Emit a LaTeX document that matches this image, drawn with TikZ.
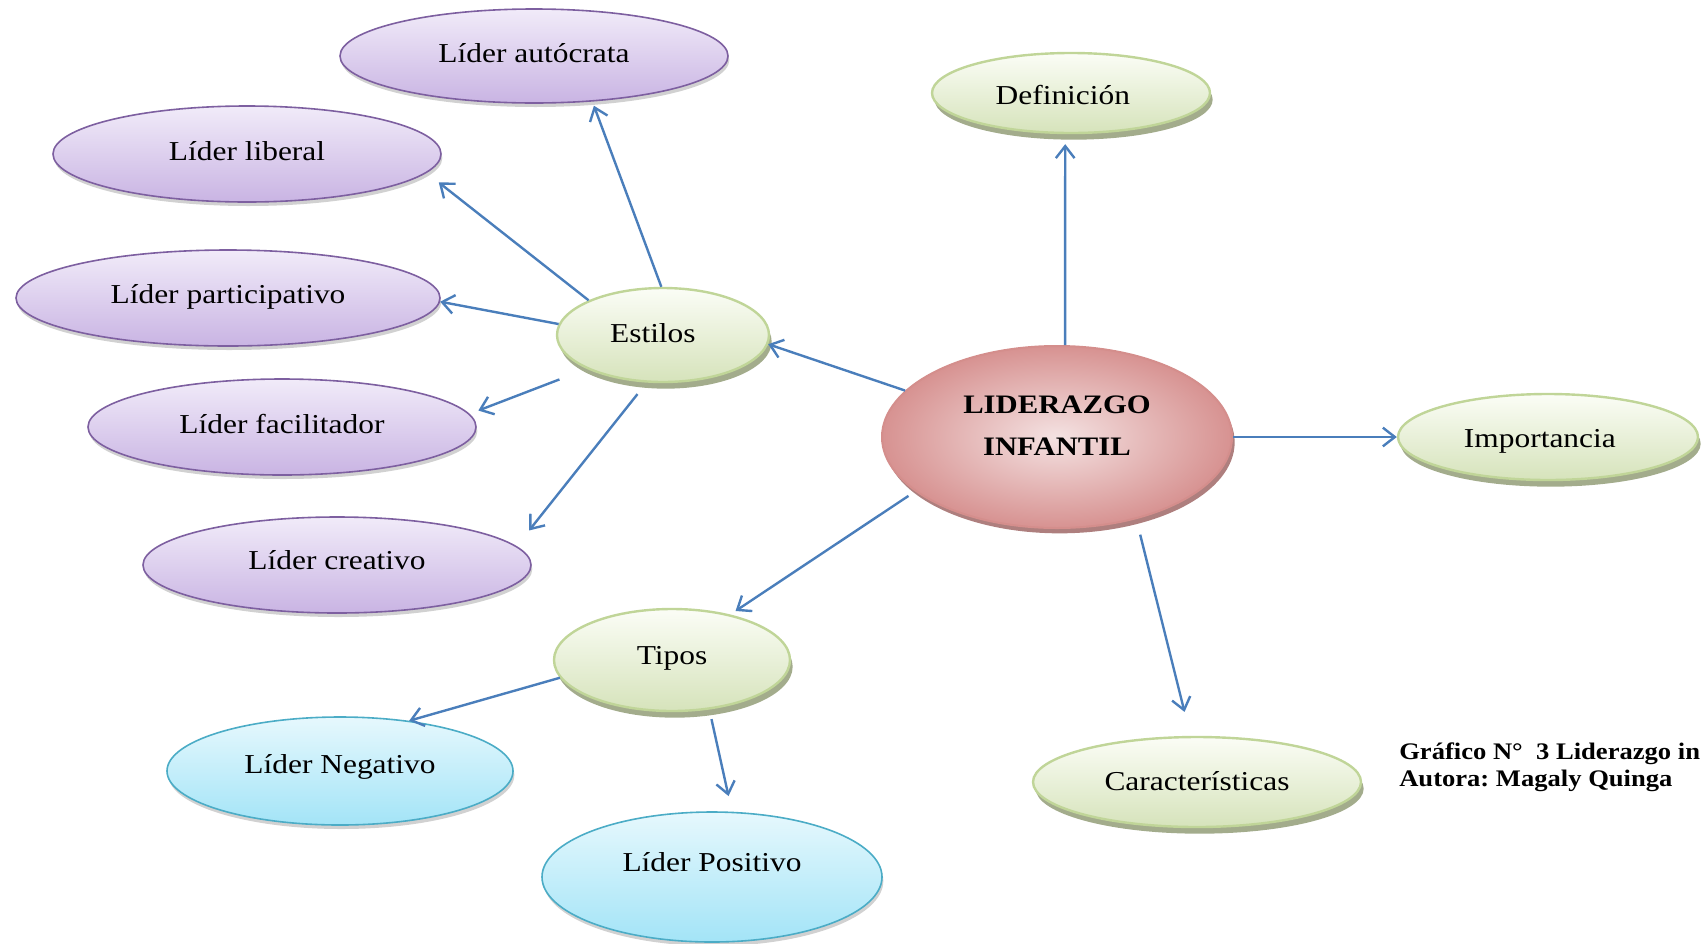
\documentclass[tikz,border=0pt]{standalone}
\usepackage{fontspec}
\setmainfont{Liberation Serif}[FakeStretch=1.15]
\newfontfamily\capfont{Liberation Serif}[FakeStretch=1.12]
\usetikzlibrary{shapes.geometric,shadows,arrows.meta}
\frenchspacing
\definecolor{arrowblue}{HTML}{4A7EBB}
\definecolor{purpTop}{HTML}{F1EBF9}
\definecolor{purpBot}{HTML}{C9B4E3}
\definecolor{purpLine}{HTML}{7D5FA0}
\definecolor{grTop}{HTML}{FBFDF6}
\definecolor{grBot}{HTML}{D6E3BB}
\definecolor{grLine}{HTML}{C0D598}
\definecolor{grShadow}{HTML}{A3AC8C}
\definecolor{blTop}{HTML}{E6F8FD}
\definecolor{blBot}{HTML}{A3E4F7}
\definecolor{blLine}{HTML}{4BACC6}
\definecolor{rdIn}{HTML}{F4E2E2}
\definecolor{rdOut}{HTML}{D79291}
\definecolor{rdLine}{HTML}{D48E8C}
\definecolor{rdShadow}{HTML}{AE7F7E}
% shift a label without changing its box: #1 = horizontal shift, #2 = vertical shift, #3 = text
\newcommand{\shiftlab}[3]{\hspace*{#1}\raisebox{#2}[\height][\depth]{#3}\hspace*{-#1}}
\begin{document}
\begin{tikzpicture}[x=0.75pt,y=-0.75pt,
  bub/.style={ellipse, inner sep=0pt, line width=1.2pt,
    font=\fontsize{20.5}{24}\selectfont},
  purp/.style={bub, draw=purpLine, top color=purpTop, bottom color=purpBot,
    drop shadow={shadow xshift=1pt, shadow yshift=-3pt, fill=black, opacity=0.18}},
  gren/.style={bub, draw=grLine, line width=1.8pt, top color=grTop, bottom color=grBot,
    drop shadow={shadow xshift=2pt, shadow yshift=-5pt, fill=grShadow, opacity=1}},
  blu/.style={bub, draw=blLine, top color=blTop, bottom color=blBot,
    drop shadow={shadow xshift=1pt, shadow yshift=-3pt, fill=black, opacity=0.18}},
  redb/.style={bub, draw=rdLine, line width=1.5pt, shading=radial, inner color=rdIn, outer color=rdOut,
    drop shadow={shadow xshift=2pt, shadow yshift=-4pt, fill=rdShadow, opacity=1}},
  conn/.style={draw=arrowblue, line width=1.8pt,
    -{Straight Barb[length=9pt,width=14pt,line width=1.8pt]}},
  capstyle/.style={inner sep=0pt, font=\capfont\bfseries\fontsize{17.8}{20.3}\selectfont}
]
\useasboundingbox (0,0) rectangle (1701,943);

% nodes
\node[purp, minimum width=291pt, minimum height=70.5pt] (aut) at (534,56) {\shiftlab{0pt}{2pt}{Líder autócrata}};
\node[purp, minimum width=291pt, minimum height=72pt] (lib) at (247,154) {\shiftlab{0pt}{2.4pt}{Líder liberal}};
\node[purp, minimum width=318pt, minimum height=72pt] (par) at (228,298) {\shiftlab{0pt}{0.8pt}{Líder participativo}};
\node[purp, minimum width=291pt, minimum height=72pt] (fac) at (282,427) {\shiftlab{0pt}{2.6pt}{Líder facilitador}};
\node[purp, minimum width=291pt, minimum height=72pt] (cre) at (337,565) {\shiftlab{0pt}{3.9pt}{Líder creativo}};
\node[gren, minimum width=159pt, minimum height=70.5pt] (est) at (663,335) {\shiftlab{-7.6pt}{1.1pt}{Estilos}};
\node[redb, minimum width=262.5pt, minimum height=136.5pt] (lid) at (1057,437)
  {\shiftlab{0pt}{8.1pt}{\bfseries\fontsize{20}{31.5}\selectfont\begin{tabular}{@{}c@{}}LIDERAZGO\\INFANTIL\end{tabular}}};
\node[gren, minimum width=208.5pt, minimum height=60pt] (def) at (1071,93) {\shiftlab{-6.1pt}{-1.6pt}{Definición}};
\node[gren, minimum width=225pt, minimum height=64.5pt] (imp) at (1548,437) {\shiftlab{-6.1pt}{-3.3pt}{Importancia}};
\node[gren, minimum width=177pt, minimum height=76.5pt] (tip) at (672,660) {\shiftlab{0pt}{1.6pt}{Tipos}};
\node[blu, minimum width=259.5pt, minimum height=81pt] (neg) at (340,771) {\shiftlab{0pt}{2.9pt}{Líder Negativo}};
\node[blu, minimum width=255pt, minimum height=97.5pt] (pos) at (712,877) {\shiftlab{0pt}{11.2pt}{Líder Positivo}};
\node[gren, minimum width=246pt, minimum height=67.5pt] (car) at (1197,782) {\shiftlab{0pt}{0.8pt}{Características}};

\node[capstyle, anchor=base west] (cap) at (1399,759)
  {\begin{tabular}[t]{@{}l@{}}Gráfico N°\ \ 3 Liderazgo in\\Autora: Magaly Quinga\end{tabular}};

% connectors
\draw[conn, shorten >=7.5pt] (lid.85) -- (def.262);
\draw[conn] (lid.163) -- (est.355);
\draw[conn] (lid.east) -- (imp.west);
\draw[conn, shorten <=6pt, shorten >=4.7pt] (lid.201) -- (tip.38);
\draw[conn, shorten <=12pt, shorten >=18.5pt] (lid.314) -- (car.98);
\draw[conn, shorten >=3.3pt] (est.92) -- (aut.322);
\draw[conn, shorten >=11.6pt] (est.155) -- (lib.354);
\draw[conn] (est.174) -- (par.359);
\draw[conn, shorten <=22pt, shorten >=7pt] (est.204) -- (fac.4);
\draw[conn, shorten <=11pt, shorten >=15pt] (est.251) -- (cre.6);
\draw[conn] (tip.189) -- (neg.36);
\draw[conn, shorten <=7.3pt, shorten >=12pt] (tip.307) -- (pos.73);
\end{tikzpicture}
\end{document}
